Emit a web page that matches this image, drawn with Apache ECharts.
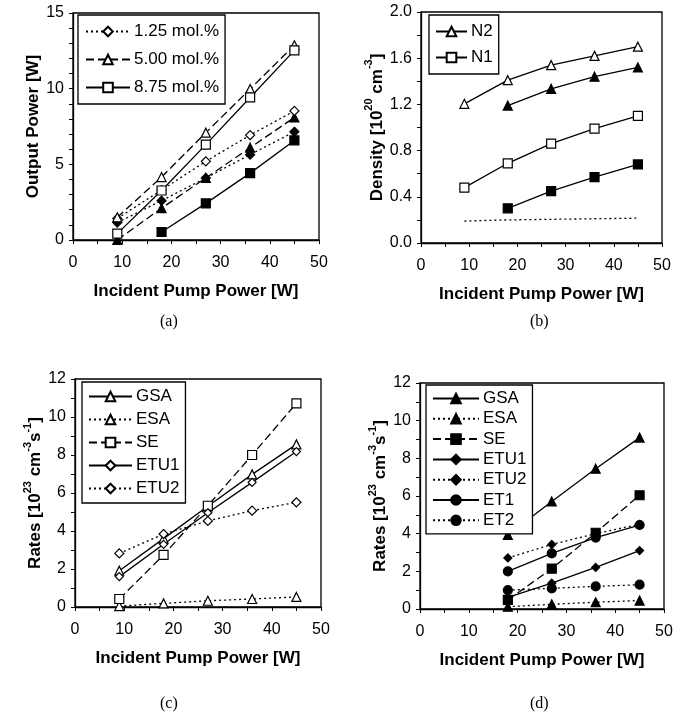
<!DOCTYPE html>
<html><head><meta charset="utf-8">
<script src="https://cdn.jsdelivr.net/npm/echarts@6/dist/echarts.min.js"></script>
<style>html,body{margin:0;padding:0;background:#fff}#c{width:685px;height:720px}</style>
</head><body><div id="c"></div>
<script>
// ---------- data ----------
const pump = [9, 18, 27, 36, 45];
const pumpD = [18, 27, 36, 45];
const xTicks = [0, 10, 20, 30, 40, 50];

// (a) Output power [W]
const a125Open = [1.42, 3.3, 5.2, 6.93, 8.53];
const a125Fill = [1.15, 2.6, 4.1, 5.64, 7.15];
const a500Open = [1.5, 4.16, 7.09, 9.98, 12.87];
const a500Fill = [0.0, 2.1, 4.1, 6.1, 8.1];
const a875Open = [0.42, 3.27, 6.3, 9.42, 12.53];
const a875Fill = [null, 0.53, 2.42, 4.42, 6.58];

// (b) Density [1e20 cm^-3]
const bN2Open = [1.205, 1.41, 1.54, 1.62, 1.70];
const bN2Fill = [null, 1.19, 1.335, 1.44, 1.52];
const bN1Open = [0.48, 0.69, 0.86, 0.99, 1.10];
const bN1Fill = [null, 0.30, 0.45, 0.57, 0.68];
const bDotted = [0.19, 0.20, 0.205, 0.21, 0.215];

// (c) Rates [1e23 cm^-3 s^-1]
const cGSA = [1.91, 3.6, 5.3, 6.98, 8.56];
const cESA = [0.05, 0.19, 0.33, 0.42, 0.53];
const cSE = [0.42, 2.74, 5.33, 8.0, 10.72];
const cETU1 = [1.6, 3.3, 4.96, 6.56, 8.18];
const cETU2 = [2.82, 3.84, 4.53, 5.07, 5.51];

// (d) Rates [1e23 cm^-3 s^-1]
const dGSA = [3.93, 5.71, 7.45, 9.1];
const dESA = [0.12, 0.25, 0.36, 0.45];
const dSE = [0.48, 2.14, 4.05, 6.04];
const dETU1 = [0.62, 1.37, 2.21, 3.1];
const dETU2 = [2.71, 3.43, 4.0, 4.5];
const dET1 = [2.0, 2.95, 3.79, 4.46];
const dET2 = [1.0, 1.1, 1.2, 1.29];

const legendA = ['1.25 mol.%', '5.00 mol.%', '8.75 mol.%'];
const legendB = ['N2', 'N1'];
const legendC = ['GSA', 'ESA', 'SE', 'ETU1', 'ETU2'];
const legendD = ['GSA', 'ESA', 'SE', 'ETU1', 'ETU2', 'ET1', 'ET2'];

// ---------- helpers ----------
const SANS = '"Liberation Sans", Arial, sans-serif';
const SOLID = 'solid', DASH = [8, 4], DOT = [2, 3];
const pairs = (xs, ys) => xs.map((x, i) => [x, ys[i]]).filter(p => p[1] !== null);

function ser(name, grid, xs, ys, dash, symbol, open, size) {
  return {
    type: 'line', name: name, xAxisIndex: grid, yAxisIndex: grid,
    data: pairs(xs, ys),
    symbol: symbol === null ? 'none' : symbol,
    symbolSize: size || 9,
    showSymbol: symbol !== null,
    lineStyle: { color: '#000', width: 1.3, type: dash },
    itemStyle: { color: open ? '#fff' : '#000', borderColor: '#000', borderWidth: 1.2 },
    emphasis: { disabled: true }, animation: false, z: open ? 3 : 2
  };
}

const titleStyle = { fontFamily: SANS, fontWeight: 'bold', fontSize: 17, color: '#000' };
function xAx(grid) {
  return {
    type: 'value', gridIndex: grid, min: 0, max: 50, interval: 10,
    name: 'Incident Pump Power [W]', nameLocation: 'middle', nameGap: 43,
    nameTextStyle: titleStyle,
    axisLine: { lineStyle: { color: '#000', width: 1.3 } },
    axisTick: { length: 4, lineStyle: { color: '#000' } },
    minorTick: { show: true, splitNumber: 2, length: 4, lineStyle: { color: '#000' } },
    axisLabel: { fontFamily: SANS, fontSize: 16, color: '#000', margin: 15 },
    splitLine: { show: false }
  };
}
function yAx(grid, max, interval, minorSplit, name, gap, fmt, rich) {
  const nts = Object.assign({}, titleStyle);
  if (rich) nts.rich = rich;
  return {
    type: 'value', gridIndex: grid, min: 0, max: max, interval: interval,
    name: name, nameLocation: 'middle', nameGap: gap, nameRotate: 90,
    nameTextStyle: nts,
    axisLine: { lineStyle: { color: '#000', width: 1.3 } },
    axisTick: { length: 4, lineStyle: { color: '#000' } },
    minorTick: { show: true, splitNumber: minorSplit, length: 4, lineStyle: { color: '#000' } },
    axisLabel: { fontFamily: SANS, fontSize: 16, color: '#000', margin: 9, formatter: fmt },
    splitLine: { show: false }
  };
}
const supRich = {
  n: { fontFamily: SANS, fontWeight: 'bold', fontSize: 17, color: '#000', lineHeight: 22, verticalAlign: 'bottom' },
  s: { fontFamily: SANS, fontWeight: 'bold', fontSize: 11, color: '#000', lineHeight: 22, verticalAlign: 'top' }
};

function legend(names, prefix, left, top, itemW, gap, pad) {
  return {
    orient: 'vertical', left: left, top: top,
    data: names.map(n => prefix + n),
    formatter: n => n.slice(prefix.length),
    itemWidth: itemW, itemHeight: 12, itemGap: gap,
    padding: pad, borderColor: '#000', borderWidth: 1.3, backgroundColor: '#fff',
    selectedMode: false,
    textStyle: { fontFamily: SANS, fontSize: 17, lineHeight: 16, color: '#000', padding: [0, 0, 0, -1] }
  };
}

const series = [
  // (a)
  ser('a:1.25 mol.%', 0, pump, a125Open, DOT, 'diamond', true, 9),
  ser('a:1.25f', 0, pump, a125Fill, DOT, 'diamond', false, 9),
  ser('a:5.00 mol.%', 0, pump, a500Open, DASH, 'triangle', true, 9),
  ser('a:5.00f', 0, pump, a500Fill, DASH, 'triangle', false, 9),
  ser('a:8.75 mol.%', 0, pump, a875Open, SOLID, 'rect', true, 9),
  ser('a:8.75f', 0, pump, a875Fill, SOLID, 'rect', false, 9),
  // (b)
  ser('b:N2', 1, pump, bN2Open, SOLID, 'triangle', true, 9),
  ser('b:N2f', 1, pump, bN2Fill, SOLID, 'triangle', false, 9),
  ser('b:N1', 1, pump, bN1Open, SOLID, 'rect', true, 9),
  ser('b:N1f', 1, pump, bN1Fill, SOLID, 'rect', false, 9),
  ser('b:dot', 1, pump, bDotted, DOT, null, false, 0),
  // (c)
  ser('c:GSA', 2, pump, cGSA, SOLID, 'triangle', true, 9),
  ser('c:ESA', 2, pump, cESA, DOT, 'triangle', true, 9),
  ser('c:SE', 2, pump, cSE, DASH, 'rect', true, 9),
  ser('c:ETU1', 2, pump, cETU1, SOLID, 'diamond', true, 8),
  ser('c:ETU2', 2, pump, cETU2, DOT, 'diamond', true, 9),
  // (d)
  ser('d:GSA', 3, pumpD, dGSA, SOLID, 'triangle', false, 9),
  ser('d:ESA', 3, pumpD, dESA, DOT, 'triangle', false, 9),
  ser('d:SE', 3, pumpD, dSE, DASH, 'rect', false, 9),
  ser('d:ETU1', 3, pumpD, dETU1, SOLID, 'diamond', false, 8),
  ser('d:ETU2', 3, pumpD, dETU2, DOT, 'diamond', false, 8),
  ser('d:ET1', 3, pumpD, dET1, SOLID, 'circle', false, 9),
  ser('d:ET2', 3, pumpD, dET2, DOT, 'circle', false, 9)
];

const gridCommon = { show: true, borderColor: '#000', borderWidth: 1.3, backgroundColor: 'transparent', containLabel: false };

const option = {
  backgroundColor: '#fff',
  animation: false,
  grid: [
    Object.assign({ left: 73, top: 13, width: 246, height: 227 }, gridCommon),
    Object.assign({ left: 421, top: 12, width: 241, height: 231 }, gridCommon),
    Object.assign({ left: 75, top: 379, width: 246, height: 228 }, gridCommon),
    Object.assign({ left: 420, top: 383, width: 244, height: 226 }, gridCommon)
  ],
  xAxis: [xAx(0), xAx(1), xAx(2), xAx(3)],
  yAxis: [
    yAx(0, 15, 5, 5, 'Output Power [W]', 26, v => String(v)),
    yAx(1, 2.0, 0.4, 2, '{n|Density [10}{s|20}{n| cm}{s|-3}{n|]}', 29, v => v.toFixed(1), supRich),
    yAx(2, 12, 2, 2, '{n|Rates [10}{s|23}{n| cm}{s|-3}{n|s}{s|-1}{n|]}', 25, v => String(v), supRich),
    yAx(3, 12, 2, 2, '{n|Rates [10}{s|23}{n| cm}{s|-3}{n|s}{s|-1}{n|]}', 27, v => String(v), supRich)
  ],
  legend: [
    legend(legendA, 'a:', 78, 15, 44, 11, [8, 6, 8, 7]),
    legend(legendB, 'b:', 429, 15, 31, 9, [8, 6, 8, 6]),
    legend(legendC, 'c:', 82, 382, 43, 6, [6, 6, 6, 6]),
    legend(legendD, 'd:', 426, 385, 46, 3.3, [5, 6, 5, 6])
  ],
  graphic: [
    { type: 'text', left: 160, top: 314, style: { text: '(a)', font: '16px "Liberation Serif", serif', fill: '#000' } },
    { type: 'text', left: 530, top: 314, style: { text: '(b)', font: '16px "Liberation Serif", serif', fill: '#000' } },
    { type: 'text', left: 160, top: 696, style: { text: '(c)', font: '16px "Liberation Serif", serif', fill: '#000' } },
    { type: 'text', left: 530, top: 696, style: { text: '(d)', font: '16px "Liberation Serif", serif', fill: '#000' } }
  ],
  series: series
};

const chart = echarts.init(document.getElementById('c'), null, { renderer: 'canvas' });
chart.setOption(option);
</script>
</body></html>
